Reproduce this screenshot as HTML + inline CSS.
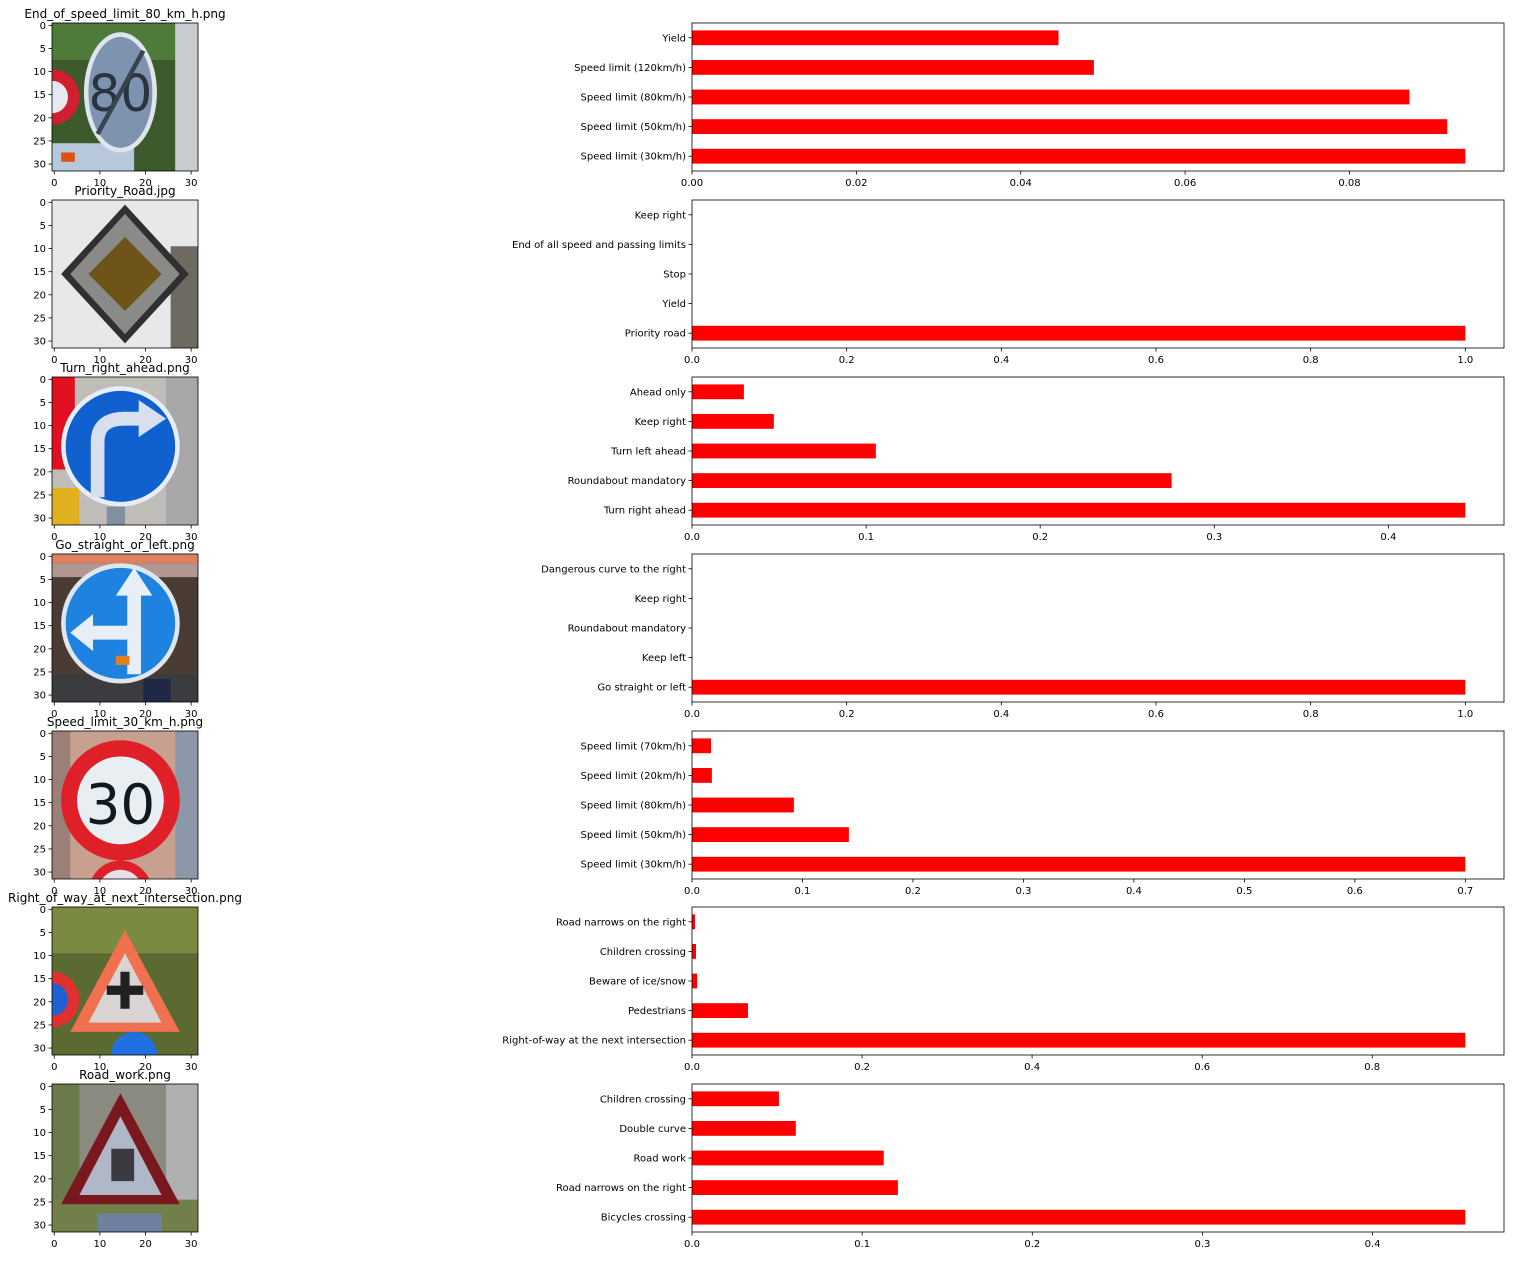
<!DOCTYPE html>
<html><head><meta charset="utf-8"><style>
body{margin:0;background:#fff;}
svg text{font-family:"DejaVu Sans","Liberation Sans",sans-serif;}
</style></head><body>
<svg id="fig" width="1515" height="1256" xmlns="http://www.w3.org/2000/svg">
<rect width="1515" height="1256" fill="#fff"/>
<g id="imgs"></g>
<g id="charts"></g>
</svg>
<script>
const titles = ["End_of_speed_limit_80_km_h.png","Priority_Road.jpg","Turn_right_ahead.png","Go_straight_or_left.png","Speed_limit_30_km_h.png","Right_of_way_at_next_intersection.png","Road_work.png"];
const categories1 = ["Speed limit (30km/h)","Speed limit (50km/h)","Speed limit (80km/h)","Speed limit (120km/h)","Yield"];
const values1 = [0.0941,0.0919,0.0873,0.0489,0.0446];
const ticks1 = [0,0.02,0.04,0.06,0.08];
const categories2 = ["Priority road","Yield","Stop","End of all speed and passing limits","Keep right"];
const values2 = [1.0,0,0,0,0];
const ticks2 = [0,0.2,0.4,0.6,0.8,1.0];
const categories3 = ["Turn right ahead","Roundabout mandatory","Turn left ahead","Keep right","Ahead only"];
const values3 = [0.4442,0.2755,0.1056,0.047,0.0298];
const ticks3 = [0,0.1,0.2,0.3,0.4];
const categories4 = ["Go straight or left","Keep left","Roundabout mandatory","Keep right","Dangerous curve to the right"];
const values4 = [1.0,0,0,0,0];
const ticks4 = [0,0.2,0.4,0.6,0.8,1.0];
const categories5 = ["Speed limit (30km/h)","Speed limit (50km/h)","Speed limit (80km/h)","Speed limit (20km/h)","Speed limit (70km/h)"];
const values5 = [0.700,0.142,0.0922,0.018,0.0172];
const ticks5 = [0,0.1,0.2,0.3,0.4,0.5,0.6,0.7];
const categories6 = ["Right-of-way at the next intersection","Pedestrians","Beware of ice/snow","Children crossing","Road narrows on the right"];
const values6 = [0.9095,0.0658,0.006,0.0047,0.0035];
const ticks6 = [0,0.2,0.4,0.6,0.8];
const categories7 = ["Bicycles crossing","Road narrows on the right","Road work","Double curve","Children crossing"];
const values7 = [0.4545,0.121,0.1127,0.061,0.0511];
const ticks7 = [0,0.1,0.2,0.3,0.4];
const tickDigits = [2,1,1,1,1,1,1];

const signs = [
 '<rect width="32" height="32" fill="#3c5a2c"/><rect x="0" y="0" width="32" height="8" fill="#4e7a3a"/><rect x="27" y="0" width="5" height="32" fill="#c8ccd0"/><circle cx="0" cy="16" r="6" fill="#d02030"/><circle cx="0" cy="16" r="3.5" fill="#e8e8f0"/><rect x="0" y="26" width="18" height="6" fill="#b8c8dc"/><rect x="2" y="28" width="3" height="2" fill="#e05010"/><ellipse cx="15" cy="15" rx="8" ry="13" fill="#e0e4ec"/><ellipse cx="15" cy="15" rx="7" ry="12" fill="#7d93b0"/><text x="15" y="19" font-size="11" text-anchor="middle" fill="#2a3440" font-family="Liberation Sans">80</text><line x1="10" y1="24" x2="20" y2="6" stroke="#3a4450" stroke-width="1"/>',
 '<rect width="32" height="32" fill="#e6e8ea"/><rect x="26" y="10" width="6" height="22" fill="#6e6a62"/><polygon points="16,1 30,16 16,31 2,16" fill="#303030"/><polygon points="16,3 28,16 16,29 4,16" fill="#8a8a88"/><polygon points="16,8 24,16 16,24 8,16" fill="#6e5418"/>',
 '<rect width="32" height="32" fill="#c0bcb8"/><rect x="0" y="0" width="5" height="20" fill="#e01020"/><rect x="0" y="24" width="6" height="8" fill="#e0b020"/><rect x="25" y="0" width="7" height="32" fill="#a8a8a8"/><rect x="12" y="28" width="4" height="4" fill="#8090a0"/><circle cx="15" cy="15" r="13" fill="#e8eef8"/><circle cx="15" cy="15" r="12" fill="#1060d0"/><path d="M10 26 V14 Q10 9 16 9 H20" stroke="#d8e0f0" stroke-width="3" fill="none"/><polygon points="19,5 25,9 19,13" fill="#d8e0f0"/>',
 '<rect width="32" height="32" fill="#4a3c34"/><rect x="0" y="0" width="32" height="2" fill="#e08060"/><rect x="0" y="2" width="32" height="3" fill="#b09890"/><rect x="0" y="26" width="32" height="6" fill="#3c3c40"/><rect x="20" y="27" width="6" height="5" fill="#202848"/><circle cx="15" cy="15" r="13" fill="#dfe6ee"/><circle cx="15" cy="15" r="12" fill="#1e82e0"/><path d="M18 26 V8 M18 17 H8" stroke="#e8eef6" stroke-width="3" fill="none"/><polygon points="14,9 18,3 22,9" fill="#e8eef6"/><polygon points="9,13 4,17 9,21" fill="#e8eef6"/><rect x="14" y="22" width="3" height="2" fill="#e08020"/>',
 '<rect width="32" height="32" fill="#c8a090"/><rect x="0" y="0" width="4" height="32" fill="#9a8076"/><rect x="27" y="0" width="5" height="32" fill="#8c98a8"/><circle cx="15" cy="15" r="13" fill="#e02028"/><circle cx="15" cy="15" r="9.5" fill="#e8eef2"/><text x="15" y="20" font-size="12" text-anchor="middle" fill="#101820" font-family="Liberation Sans">30</text><circle cx="15" cy="35" r="7" fill="#e02028"/><circle cx="15" cy="35" r="5" fill="#e8e0e8"/>',
 '<rect width="32" height="32" fill="#5a6a30"/><rect x="0" y="0" width="32" height="10" fill="#7a8a40"/><circle cx="0" cy="20" r="6" fill="#e03030"/><circle cx="0" cy="20" r="3.5" fill="#2060d0"/><circle cx="18" cy="32" r="5" fill="#2070e0"/><polygon points="16,5 28,27 4,27" fill="#f07050"/><polygon points="16,10 24,25 8,25" fill="#d8d4d4"/><rect x="15" y="14" width="2" height="8" fill="#202020"/><rect x="12" y="17" width="8" height="2" fill="#202020"/>',
 '<rect width="32" height="32" fill="#8a8a80"/><rect x="0" y="0" width="6" height="32" fill="#6a7a4a"/><rect x="0" y="25" width="32" height="7" fill="#708048"/><rect x="25" y="0" width="7" height="25" fill="#b0b0b0"/><rect x="10" y="28" width="14" height="4" fill="#7080a0"/><polygon points="15,2 28,26 2,26" fill="#7a1820"/><polygon points="15,7 24,24 6,24" fill="#b0b8c8"/><rect x="13" y="14" width="5" height="7" fill="#3a3a40"/>'
];

const allCats=[categories1,categories2,categories3,categories4,categories5,categories6,categories7];
const allVals=[values1,values2,values3,values4,values5,values6,values7];
const allTicks=[ticks1,ticks2,ticks3,ticks4,ticks5,ticks6,ticks7];
const tops=[23,200,377,554,731,907,1084];
const NS="http://www.w3.org/2000/svg";
function mk(tag,attrs,parent){const e=document.createElementNS(NS,tag);for(const k in attrs)e.setAttribute(k,attrs[k]);parent.appendChild(e);return e;}
const charts=document.getElementById('charts');
const imgs=document.getElementById('imgs');
const AX0=692,AX1=1504,H=148;

for(let r=0;r<7;r++){
  const top=tops[r];
  const g=mk('g',{},charts);
  
  
  const vals=allVals[r],cats=allCats[r],ticks=allTicks[r];
  const xmax=Math.max(...vals)*1.05;
  const xs=v=>AX0+v/xmax*(AX1-AX0);
  const ys=i=>top+H-(i+0.5)*(H/5);
  for(let i=0;i<vals.length;i++){
    const bh=H/5*0.5;
    const b=mk('rect',{x:xs(0),y:ys(i)-bh/2,width:Math.max(0,xs(vals[i])-xs(0)),height:bh,fill:'#ff0000'},g);
    
    
    mk('line',{x1:AX0-3.5,x2:AX0,y1:ys(i),y2:ys(i),stroke:'#000','stroke-width':0.8},g);
    const t=mk('text',{x:AX0-6,y:ys(i)+3.5,'font-size':10,'text-anchor':'end'},g);
    t.textContent=cats[i];
    
    
  }
  for(const tv of ticks){
    const x=xs(tv);
    mk('line',{x1:x,x2:x,y1:top+H,y2:top+H+3.5,stroke:'#000','stroke-width':0.8},g);
    const t=mk('text',{x:x,y:top+H+15,'font-size':10,'text-anchor':'middle'},g);
    t.textContent=tv.toFixed(tickDigits[r]);
    
    
  }
  const fr=mk('rect',{x:AX0,y:top,width:AX1-AX0,height:H,fill:'none',stroke:'#000','stroke-width':0.8},g);
  
  

  const ig=mk('g',{},imgs);
  
  
  const IX=52,IW=146,p=IW/32;
  const tt=mk('text',{x:IX+IW/2,y:top-5,'font-size':12,'text-anchor':'middle'},ig);
  tt.textContent=titles[r];
  
  
  const inner=mk('svg',{x:IX,y:top,width:IW,height:H,viewBox:'0 0 32 32',preserveAspectRatio:'none'},ig);
  inner.innerHTML=signs[r];
  mk('rect',{x:IX,y:top,width:IW,height:H,fill:'none',stroke:'#000','stroke-width':0.8},ig);
  for(const v of [0,10,20,30]){
    const x=IX+(v+0.5)*p;
    mk('line',{x1:x,x2:x,y1:top+H,y2:top+H+3.5,stroke:'#000','stroke-width':0.8},ig);
    const t=mk('text',{x:x,y:top+H+15,'font-size':10,'text-anchor':'middle'},ig);
    t.textContent=v;
  }
  for(const v of [0,5,10,15,20,25,30]){
    const y=top+(v+0.5)*H/32;
    mk('line',{x1:IX-3.5,x2:IX,y1:y,y2:y,stroke:'#000','stroke-width':0.8},ig);
    const t=mk('text',{x:IX-6,y:y+3.5,'font-size':10,'text-anchor':'end'},ig);
    t.textContent=v;
  }
}
</script>
</body></html>
